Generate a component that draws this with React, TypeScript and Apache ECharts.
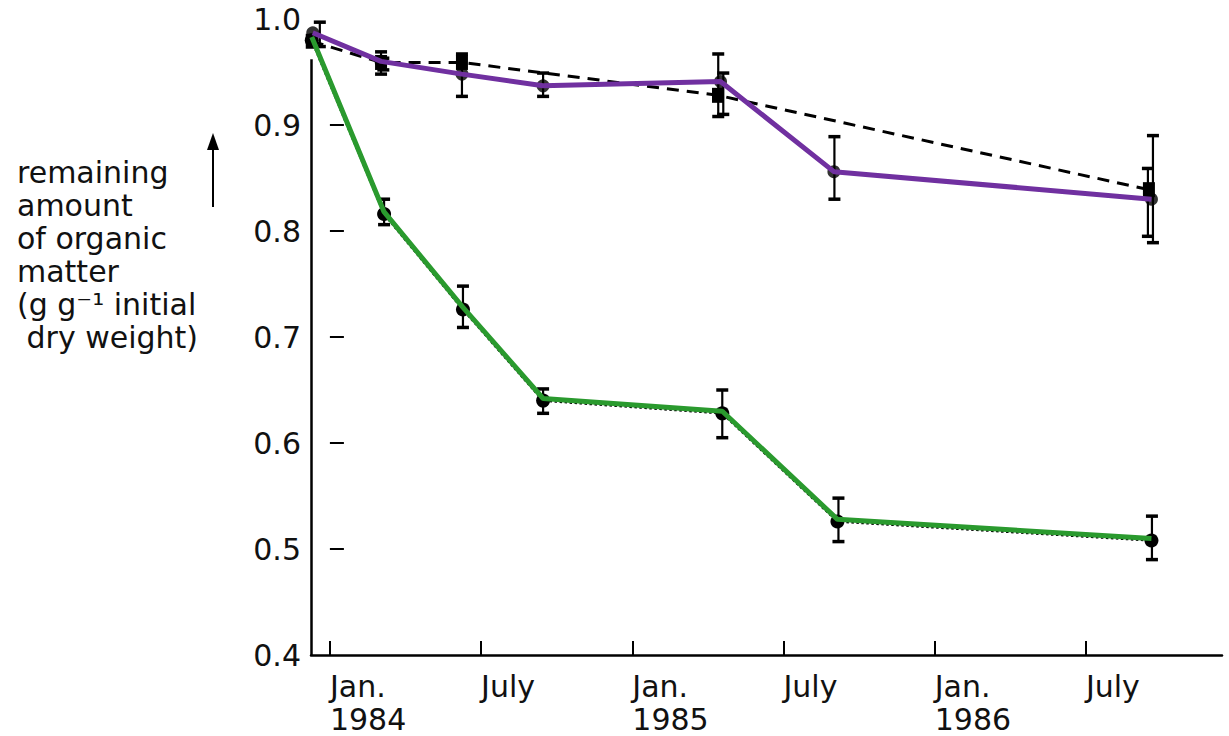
import React, { useEffect, useRef } from "react";
import * as echarts from "echarts";

// Time is measured in months since 1 January 1984.
const X_MIN = -0.75;
const X_MAX = 35.4;
const Y_AXIS_TOP = 0.962;

const TICK_MONTHS = [0, 6, 12, 18, 24, 30];
const TICK_LABELS = ["Jan.\n1984", "July", "Jan.\n1985", "July", "Jan.\n1986", "July"];
const Y_TICKS = [0.5, 0.6, 0.7, 0.8, 0.9];

// Upper curve (solid purple)
const UPPER_X = [-0.68, 2.03, 5.24, 8.46, 15.5, 20.0, 32.6];
const UPPER_Y = [0.987, 0.96, 0.948, 0.937, 0.941, 0.856, 0.83];

// Upper curve (dashed black)
const DASHED_X = [-0.72, 2.03, 5.24, 15.4, 32.5];
const DASHED_Y = [0.979, 0.959, 0.959, 0.928, 0.839];

// Lower curve (solid green) and its dotted black companion
const LOWER_X = [-0.72, 2.15, 5.28, 8.46, 15.57, 20.14, 32.6];
const LOWER_Y = [0.983, 0.818, 0.728, 0.642, 0.63, 0.528, 0.51];
const DOTTED_Y = [0.98, 0.816, 0.726, 0.64, 0.628, 0.526, 0.508];

// Error bars: position, lower and upper limit
const ERR_X = [-0.4, 2.03, 2.12, 5.24, 8.46, 15.41, 15.61, 20.02, 32.46, 32.66, 2.15, 5.28, 8.46, 15.57, 20.18, 32.62];
const ERR_LOW = [0.974, 0.948, 0.952, 0.927, 0.927, 0.908, 0.91, 0.83, 0.795, 0.789, 0.806, 0.709, 0.628, 0.605, 0.507, 0.49];
const ERR_HIGH = [0.997, 0.969, 0.963, 0.967, 0.949, 0.967, 0.949, 0.889, 0.859, 0.89, 0.83, 0.748, 0.651, 0.65, 0.548, 0.531];

const PURPLE = "#7030a0";
const GREEN = "#2a9a2e";
const FONT = "DejaVu Sans";

const pairs = (xs: number[], ys: number[]) => xs.map((x, i) => [x, ys[i]]);

export default function App() {
  const ref = useRef<HTMLDivElement>(null);

  useEffect(() => {
    if (!ref.current) return;
    const chart = echarts.init(ref.current, undefined, { renderer: "svg" });

    const errData = ERR_X.map((x, i) => [x, ERR_LOW[i], ERR_HIGH[i]]);

    chart.setOption({
      animation: false,
      backgroundColor: "#ffffff",
      grid: { left: 311, right: 7, top: 19, bottom: 79, containLabel: false },
      xAxis: {
        type: "value",
        min: X_MIN,
        max: X_MAX,
        axisLine: { show: true, lineStyle: { color: "#000", width: 2.5 } },
        axisTick: {
          show: true,
          inside: true,
          length: 14,
          customValues: TICK_MONTHS,
          lineStyle: { color: "#000", width: 2 },
        },
        axisLabel: {
          show: true,
          customValues: TICK_MONTHS,
          formatter: (v: number) => TICK_LABELS[TICK_MONTHS.indexOf(Math.round(v))] ?? "",
          align: "left",
          margin: 15,
          fontSize: 30,
          lineHeight: 33,
          fontFamily: FONT,
          color: "#111",
        },
        splitLine: { show: false },
      },
      yAxis: {
        type: "value",
        min: 0.4,
        max: 1.0,
        interval: 0.1,
        axisLine: { show: false },
        axisTick: {
          show: true,
          inside: true,
          length: 14,
          customValues: Y_TICKS,
          lineStyle: { color: "#000", width: 2 },
        },
        axisLabel: {
          show: true,
          margin: 10,
          fontSize: 30,
          fontFamily: FONT,
          color: "#111",
          formatter: (v: number) => v.toFixed(1),
        },
        splitLine: { show: false },
      },
      graphic: [
        {
          type: "text",
          left: 17,
          top: 156,
          style: {
            text: "remaining\namount\nof organic\nmatter\n(g g\u207b\u00b9 initial\n dry weight)",
            font: `30px "${FONT}"`,
            lineHeight: 33,
            fill: "#111",
          },
        },
        {
          type: "line",
          shape: { x1: 213, y1: 207, x2: 213, y2: 140 },
          style: { stroke: "#000", lineWidth: 2 },
        },
        {
          type: "polygon",
          shape: { points: [[213, 133], [207, 150], [219, 150]] },
          style: { fill: "#000" },
        },
      ],
      series: [
        {
          type: "custom",
          name: "error",
          z: 1,
          clip: false,
          data: errData,
          encode: { x: 0, y: [1, 2] },
          renderItem: (_p: any, api: any) => {
            const x = api.value(0);
            const lo = api.coord([x, api.value(1)]);
            const hi = api.coord([x, api.value(2)]);
            const cap = 6;
            const s = { stroke: "#000", lineWidth: 2.2 };
            const c = { stroke: "#000", lineWidth: 3.5 };
            return {
              type: "group",
              children: [
                { type: "line", shape: { x1: lo[0], y1: lo[1], x2: hi[0], y2: hi[1] }, style: s },
                { type: "line", shape: { x1: lo[0] - cap, y1: lo[1], x2: lo[0] + cap, y2: lo[1] }, style: c },
                { type: "line", shape: { x1: hi[0] - cap, y1: hi[1], x2: hi[0] + cap, y2: hi[1] }, style: c },
              ],
            };
          },
        },
        {
          type: "line",
          name: "dashed",
          z: 2,
          data: pairs(DASHED_X, DASHED_Y),
          symbol: "rect",
          symbolSize: [12, 15],
          showSymbol: true,
          itemStyle: { color: "#000" },
          lineStyle: { color: "#000", width: 3, type: [12, 8] },
          markLine: {
            silent: true,
            symbol: "none",
            label: { show: false },
            lineStyle: { color: "#000", width: 2.5, type: "solid" },
            data: [[{ coord: [X_MIN, 0.4] }, { coord: [X_MIN, Y_AXIS_TOP] }]],
          },
        },
        {
          type: "line",
          name: "dotted",
          z: 2,
          data: pairs(LOWER_X, DOTTED_Y),
          symbol: "circle",
          symbolSize: 14,
          showSymbol: true,
          itemStyle: { color: "#000" },
          lineStyle: { color: "#000", width: 2.5, type: "dotted" },
        },
        {
          type: "scatter",
          name: "upper points",
          z: 2,
          data: pairs(UPPER_X, UPPER_Y),
          symbol: "circle",
          symbolSize: 13,
          itemStyle: { color: "#000" },
        },
        {
          type: "line",
          name: "upper",
          z: 5,
          data: pairs(UPPER_X, UPPER_Y),
          showSymbol: false,
          symbol: "none",
          lineStyle: { color: PURPLE, width: 5 },
        },
        {
          type: "line",
          name: "lower",
          z: 5,
          data: pairs(LOWER_X, LOWER_Y),
          showSymbol: false,
          symbol: "none",
          lineStyle: { color: GREEN, width: 5 },
        },
      ],
    });

    return () => chart.dispose();
  }, []);

  return (
    <div
      ref={ref}
      style={{ position: "fixed", left: 0, top: 0, width: 1229, height: 736, background: "#fff" }}
    />
  );
}
